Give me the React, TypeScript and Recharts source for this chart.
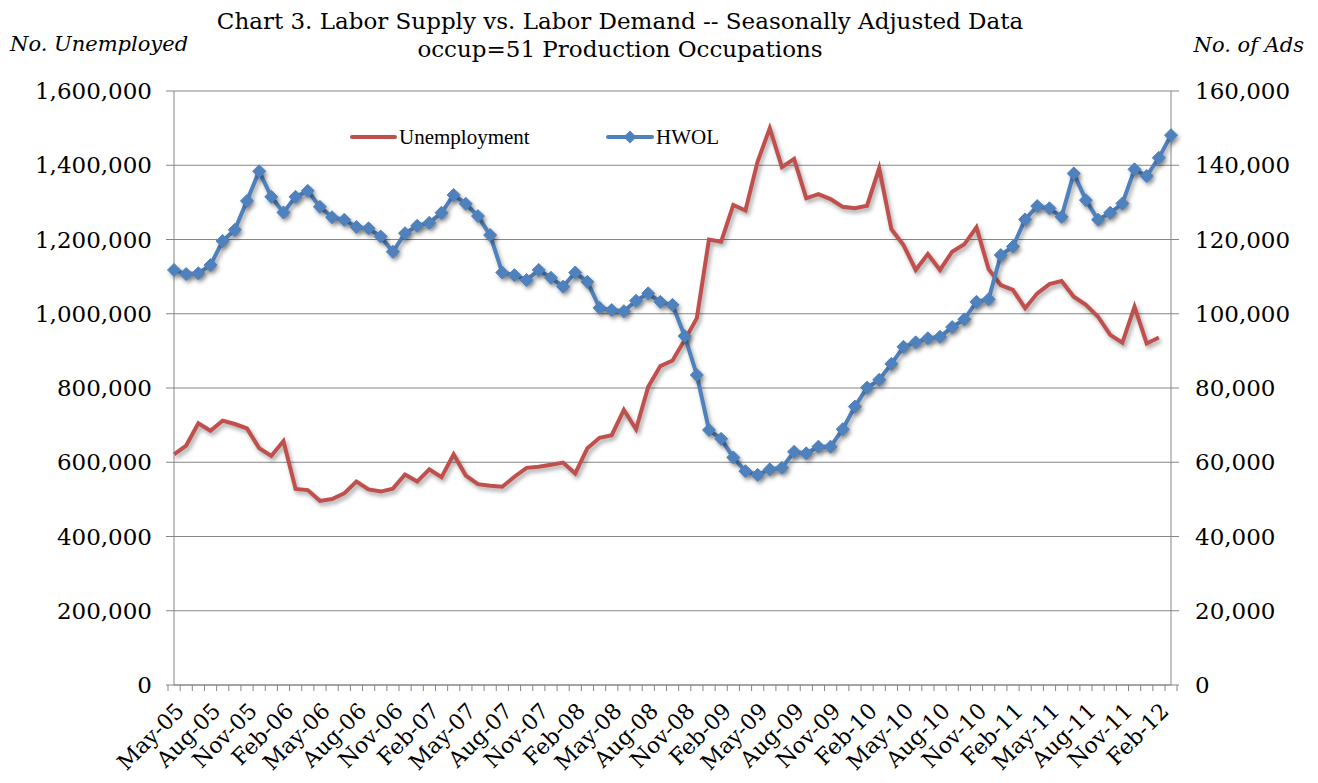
import React from 'react';
import { LineChart, Line, XAxis, YAxis, CartesianGrid, Legend } from 'recharts';

const months = [
  'May-05', 'Jun-05', 'Jul-05', 'Aug-05', 'Sep-05', 'Oct-05', 'Nov-05', 'Dec-05',
  'Jan-06', 'Feb-06', 'Mar-06', 'Apr-06', 'May-06', 'Jun-06', 'Jul-06', 'Aug-06', 'Sep-06', 'Oct-06', 'Nov-06', 'Dec-06',
  'Jan-07', 'Feb-07', 'Mar-07', 'Apr-07', 'May-07', 'Jun-07', 'Jul-07', 'Aug-07', 'Sep-07', 'Oct-07', 'Nov-07', 'Dec-07',
  'Jan-08', 'Feb-08', 'Mar-08', 'Apr-08', 'May-08', 'Jun-08', 'Jul-08', 'Aug-08', 'Sep-08', 'Oct-08', 'Nov-08', 'Dec-08',
  'Jan-09', 'Feb-09', 'Mar-09', 'Apr-09', 'May-09', 'Jun-09', 'Jul-09', 'Aug-09', 'Sep-09', 'Oct-09', 'Nov-09', 'Dec-09',
  'Jan-10', 'Feb-10', 'Mar-10', 'Apr-10', 'May-10', 'Jun-10', 'Jul-10', 'Aug-10', 'Sep-10', 'Oct-10', 'Nov-10', 'Dec-10',
  'Jan-11', 'Feb-11', 'Mar-11', 'Apr-11', 'May-11', 'Jun-11', 'Jul-11', 'Aug-11', 'Sep-11', 'Oct-11', 'Nov-11', 'Dec-11',
  'Jan-12', 'Feb-12', 'Mar-12',
];

// No. unemployed (left axis)
const unemployment = [
  621000, 645000, 705000, 685000, 712000, 703000, 691000, 638000,
  617000, 657000, 528000, 525000, 496000, 501000, 516000, 548000, 527000, 521000, 529000, 567000,
  548000, 581000, 560000, 621000, 564000, 541000, 537000, 534000, 561000, 585000, 588000, 593000,
  599000, 570000, 638000, 666000, 673000, 741000, 689000, 803000, 859000, 874000, 929000, 988000,
  1200000, 1194000, 1293000, 1278000, 1410000, 1500000, 1395000, 1417000, 1311000, 1322000, 1309000, 1288000,
  1284000, 1291000, 1392000, 1228000, 1185000, 1118000, 1161000, 1118000, 1167000, 1187000, 1233000, 1120000,
  1077000, 1064000, 1015000, 1055000, 1080000, 1088000, 1046000, 1024000, 992000, 943000, 922000, 1019000,
  920000, 936000, null,
];

// HWOL no. of ads (right axis)
const hwol = [
  111800, 110700, 110900, 113100, 119600, 122600, 130400, 138400,
  131500, 127300, 131500, 133100, 128800, 126000, 125300, 123400, 123000, 120800, 116700, 121700,
  123700, 124500, 127200, 132000, 129600, 126300, 121200, 111100, 110400, 109100, 111800, 109700,
  107300, 111100, 108600, 101600, 101000, 100700, 103500, 105500, 103200, 102400, 94000, 83500,
  68700, 66300, 61300, 57600, 56600, 58100, 58500, 62800, 62400, 64200, 64200, 68900,
  75000, 80100, 82200, 86500, 91100, 92300, 93400, 93800, 96400, 98500, 103200, 103900,
  115800, 118100, 125400, 129000, 128400, 126100, 137800, 130600, 125300, 127200, 129700, 138900,
  137100, 142000, 148100,
];

const leftTicks = [0, 200000, 400000, 600000, 800000, 1000000, 1200000, 1400000, 1600000];
const rightTicks = [0, 20000, 40000, 60000, 80000, 100000, 120000, 140000, 160000];

const data = months.map((m, i) => ({ month: m, unemployment: unemployment[i], hwol: hwol[i] }));

const W = 1318;
const H = 783;
const LEFT_W = 174;
const RIGHT_W = 147;
const PLOT_W = W - LEFT_W - RIGHT_W;
const AXIS_GRAY = '#868686';
const RED = '#C0504D';
const BLUE = '#4F81BD';
const SERIF = '"DejaVu Serif", serif';
const TIMES = '"Liberation Serif", serif';

const fmt = (v: number) => v.toLocaleString('en-US');

function MonthTick(props: any) {
  const { x, y, payload, index } = props;
  const band = PLOT_W / months.length;
  const ax = x + 6;
  const ay = y + 22;
  return (
    <g>
      <line x1={x - band / 2} y1={y} x2={x - band / 2} y2={y + 6} stroke={AXIS_GRAY} />
      {index === months.length - 1 && (
        <line x1={x + band / 2} y1={y} x2={x + band / 2} y2={y + 6} stroke={AXIS_GRAY} />
      )}
      {index % 3 === 0 && (
        <text
          x={ax}
          y={ay}
          dy="0.35em"
          textAnchor="end"
          transform={`rotate(-45 ${ax} ${ay})`}
          fontFamily={SERIF}
          fontSize={22}
          fill="#000"
        >
          {payload.value}
        </text>
      )}
    </g>
  );
}

function Diamond(props: any) {
  const { cx, cy } = props;
  if (cx == null || cy == null) return null;
  const r = 6.5;
  return (
    <polygon
      points={`${cx},${cy - r} ${cx + r},${cy} ${cx},${cy + r} ${cx - r},${cy}`}
      fill={BLUE}
      stroke={BLUE}
      strokeWidth={1}
    />
  );
}

function LegendBox() {
  return (
    <svg width={400} height={30}>
      <line x1={4} y1={15} x2={47} y2={15} stroke={RED} strokeWidth={4} strokeLinecap="round" />
      <text x={51} y={22} fontFamily={TIMES} fontSize={21} fill="#000">Unemployment</text>
      <line x1={260} y1={15} x2={304} y2={15} stroke={BLUE} strokeWidth={4} strokeLinecap="round" />
      <polygon points="282,8.5 288.5,15 282,21.5 275.5,15" fill={BLUE} />
      <text x={308} y={22} fontFamily={TIMES} fontSize={21} fill="#000">HWOL</text>
    </svg>
  );
}

export default function App() {
  return (
    <div style={{ position: 'absolute', left: 0, top: 0, width: W, height: H, background: '#fff' }}>
      <style>{`.recharts-line-curve, .recharts-line-dots { filter: drop-shadow(2px 3px 2px rgba(0,0,0,0.35)); }`}</style>
      <LineChart width={W} height={H} data={data} margin={{ top: 91, right: 0, bottom: 0, left: 0 }}>
        <CartesianGrid yAxisId="left" vertical={false} stroke={AXIS_GRAY} strokeWidth={1} />
        <XAxis
          dataKey="month"
          height={98}
          interval={0}
          tickLine={false}
          tickSize={0}
          tickMargin={0}
          axisLine={{ stroke: AXIS_GRAY }}
          tick={<MonthTick />}
        />
        <YAxis
          yAxisId="left"
          width={LEFT_W}
          domain={[0, 1600000]}
          ticks={leftTicks}
          tickFormatter={fmt}
          tickSize={8}
          tickMargin={14}
          axisLine={{ stroke: AXIS_GRAY }}
          tickLine={{ stroke: AXIS_GRAY }}
          tick={{ fontFamily: SERIF, fontSize: 23, fill: '#000' }}
        />
        <YAxis
          yAxisId="right"
          orientation="right"
          width={RIGHT_W}
          domain={[0, 160000]}
          ticks={rightTicks}
          tickFormatter={fmt}
          tickSize={8}
          tickMargin={16}
          axisLine={{ stroke: AXIS_GRAY }}
          tickLine={{ stroke: AXIS_GRAY }}
          tick={{ fontFamily: SERIF, fontSize: 23, fill: '#000' }}
        />
        <Legend
          layout="horizontal"
          verticalAlign="middle"
          align="center"
          wrapperStyle={{ top: 122, left: 348, width: 400, height: 30 }}
          content={() => <LegendBox />}
        />
        <Line
          yAxisId="left"
          type="linear"
          dataKey="unemployment"
          name="Unemployment"
          stroke={RED}
          strokeWidth={4}
          dot={false}
          isAnimationActive={false}
        />
        <Line
          yAxisId="right"
          type="linear"
          dataKey="hwol"
          name="HWOL"
          stroke={BLUE}
          strokeWidth={4}
          dot={<Diamond />}
          isAnimationActive={false}
        />
      </LineChart>
      <svg
        width={W}
        height={H}
        style={{ position: 'absolute', left: 0, top: 0, pointerEvents: 'none' }}
      >
        <text x={620} y={29} textAnchor="middle" fontFamily={SERIF} fontSize={23} fill="#000">
          Chart 3. Labor Supply vs. Labor Demand -- Seasonally Adjusted Data
        </text>
        <text x={620} y={57} textAnchor="middle" fontFamily={SERIF} fontSize={23} fill="#000">
          occup=51 Production Occupations
        </text>
        <text x={10} y={51} fontFamily={SERIF} fontStyle="italic" fontSize={21} fill="#000">
          No. Unemployed
        </text>
        <text x={1304} y={52} textAnchor="end" fontFamily={SERIF} fontStyle="italic" fontSize={21} fill="#000">
          No. of Ads
        </text>
      </svg>
    </div>
  );
}
